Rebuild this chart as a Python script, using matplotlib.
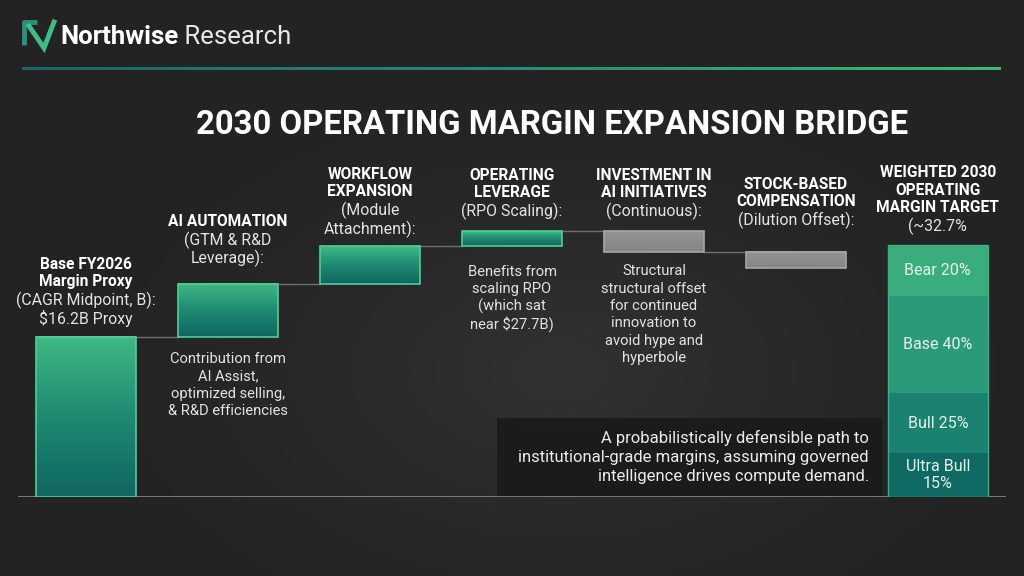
import numpy as np
import matplotlib.pyplot as plt
from matplotlib.colors import LinearSegmentedColormap

# bridge data (operating margin, % points)
base_value = 20.8
step_values = [6.9, 4.9, 1.9, -2.7, -2.1]
final_value = 32.7

bar_titles = [
    ["Base FY2026", "Margin Proxy"],
    ["AI AUTOMATION"],
    ["WORKFLOW", "EXPANSION"],
    ["OPERATING", "LEVERAGE"],
    ["INVESTMENT IN", "AI INITIATIVES"],
    ["STOCK-BASED", "COMPENSATION"],
    ["WEIGHTED 2030", "OPERATING", "MARGIN TARGET"],
]
bar_subtitles = [
    ["(CAGR Midpoint, B):", "$16.2B Proxy"],
    ["(GTM & R&D", "Leverage):"],
    ["(Module", "Attachment):"],
    ["(RPO Scaling):"],
    ["(Continuous):"],
    ["(Dilution Offset):"],
    ["(~32.7%"],
]
notes = {
    1: ["Contribution from", "AI Assist,", "optimized selling,", "& R&D efficiencies"],
    3: ["Benefits from", "scaling RPO", "(which sat", "near $27.7B)"],
    4: ["Structural", "structural offset", "for continued", "innovation to",
        "avoid hype and", "hyperbole"],
}

# scenario split of the final bar (heights, bottom -> top)
scenario_labels = ["Ultra Bull\n15%", "Bull 25%", "Base 40%", "Bear 20%"]
scenario_heights = [5.7, 7.8, 12.6, 6.6]
scenario_colors = ["#0f6a63", "#1b8170", "#2b9a79", "#3aad7f"]

summary = ("A probabilistically defensible path to\n"
           "institutional-grade margins, assuming governed\n"
           "intelligence drives compute demand.")

BG = "#262626"
font = ["Roboto", "DejaVu Sans"]

fig = plt.figure(figsize=(10.24, 5.76), dpi=100)
fig.patch.set_facecolor(BG)

# background with a soft radial glow, pixel coordinates
bg = fig.add_axes([0, 0, 1, 1])
bg.set_xlim(0, 1024)
bg.set_ylim(576, 0)
bg.axis("off")
yy, xx = np.mgrid[0:576, 0:1024]
r = np.sqrt(((xx - 560) / 520.0) ** 2 + ((yy - 370) / 320.0) ** 2)
glow = np.clip(1 - r, 0, 1) ** 1.5
c0 = np.array([0x23, 0x23, 0x23]) / 255
c1 = np.array([0x32, 0x32, 0x32]) / 255
img = c0 + (c1 - c0) * glow[..., None]
bg.imshow(img, extent=(0, 1024, 576, 0), aspect="auto", zorder=0)

# header
bg.plot([24, 24, 37], [45, 22, 22], color="#2a8f7e", lw=3.5, solid_capstyle="butt", zorder=2)
bg.plot([29, 44, 54], [26, 48, 22], color="#3cbf86", lw=3.5, solid_joinstyle="miter", zorder=2)
t1 = bg.text(60, 37, "Northwise", color="white", fontsize=18.5, fontweight="bold",
             family=font, va="center", ha="left", zorder=3)
bg.annotate(" Research", xycoords=t1, xy=(1, 0.5), va="center", ha="left",
            color="#e8e8e8", fontsize=18.5, family=font, zorder=3)
line_grad = np.linspace(0, 1, 400)[None, :]
line_cmap = LinearSegmentedColormap.from_list("hdr", ["#1d6468", "#2a8a78", "#40b874"])
bg.imshow(line_grad, cmap=line_cmap, extent=(22, 1001, 70.5, 67.5), aspect="auto", zorder=2)

bg.text(552, 125, "2030 OPERATING MARGIN EXPANSION BRIDGE", color="white", fontsize=23.7,
        fontweight="bold", family=font, ha="center", va="center", zorder=3)

# summary box
bg.add_patch(plt.Rectangle((497, 418), 385, 79, color="#1a1a1a", alpha=0.9, zorder=1, lw=0))
bg.text(869, 457, summary, color="#ececec", fontsize=12, family=font, ha="right",
        va="center", linespacing=1.35, zorder=3)

# chart axes
ax = fig.add_axes([18 / 1024, 79 / 576, 988 / 1024, 308 / 576])
ax.patch.set_alpha(0)
for s in ax.spines.values():
    s.set_visible(False)
ax.set_xticks([])
ax.set_yticks([])

green_cmap = LinearSegmentedColormap.from_list("grn", ["#106660", "#1f8a72", "#3fb886"])
grey_cmap = LinearSegmentedColormap.from_list("gry", ["#858585", "#939393"])
width = 0.704
grad = np.linspace(0, 1, 256)[:, None]

n = len(step_values) + 2
bottoms, tops = [0.0], [base_value]
running = base_value
for v in step_values:
    bottoms.append(min(running, running + v))
    tops.append(max(running, running + v))
    running += v
bottoms.append(0.0)
tops.append(final_value)

levels = [base_value]
for v in step_values:
    levels.append(levels[-1] + v)

for i in range(n - 1):
    x0, x1 = i - width / 2, i + width / 2
    if i == 0 or step_values[i - 1] > 0:
        cmap, edge = green_cmap, "#4fcf94"
    else:
        cmap, edge = grey_cmap, "#a6a6a6"
    ax.imshow(grad, cmap=cmap, origin="lower", extent=(x0, x1, bottoms[i], tops[i]),
              aspect="auto", zorder=2)
    ax.add_patch(plt.Rectangle((x0, bottoms[i]), width, tops[i] - bottoms[i], fill=False,
                               ec=edge, lw=1.2, zorder=3))

# connectors
for i in range(n - 2):
    ax.plot([i + width / 2, i + 1 - width / 2], [levels[i], levels[i]],
            color="#6e6e6e", lw=1, zorder=1)

# final stacked bar
xi = n - 1
b = 0.0
for lab, h, col in zip(scenario_labels, scenario_heights, scenario_colors):
    ax.bar(xi, h, width, bottom=b, color=col, lw=0, zorder=2)
    ax.text(xi, b + h / 2, lab, color="#e6f4ec", fontsize=11.5, family=font,
            ha="center", va="center", linespacing=1.1, zorder=4)
    b += h
ax.add_patch(plt.Rectangle((xi - width / 2, 0), width, b, fill=False, ec="#3fae80",
                           lw=1, zorder=3))

# baseline
ax.axhline(0, color="#8a8a8a", lw=1.2, zorder=1)

# labels above bars, drawn bottom line first
gaps = [18, 25, 17, 20, 20, 32, 19]
for i in range(n):
    lines = [(t, "bold") for t in bar_titles[i]] + [(t, "normal") for t in bar_subtitles[i]]
    off = gaps[i]
    for text, weight in reversed(lines):
        bold = weight == "bold"
        ax.annotate(text, xy=(i, tops[i]), xytext=(0, off), textcoords="offset pixels",
                    ha="center", va="center", color="white" if bold else "#e4e4e4",
                    fontsize=11.2 if bold else 11.4, fontweight=weight, family=font,
                    zorder=4, annotation_clip=False)
        off += 17.5 if bold else 18.5

# notes below bars, one line at a time for even spacing
note_gap = {1: 22, 3: 26, 4: 19}
for i, note_lines in notes.items():
    for k, txt in enumerate(note_lines):
        ax.annotate(txt, xy=(i, bottoms[i]), xytext=(0, -note_gap[i] - 17.4 * k),
                    textcoords="offset pixels", ha="center", va="center",
                    color="#e2e2e2", fontsize=10.6, family=font, zorder=4,
                    annotation_clip=False)

ax.set_xlim(-0.48, 6.48)
ax.set_ylim(0, 40)

fig.savefig("out.png", dpi=100, facecolor=BG)
